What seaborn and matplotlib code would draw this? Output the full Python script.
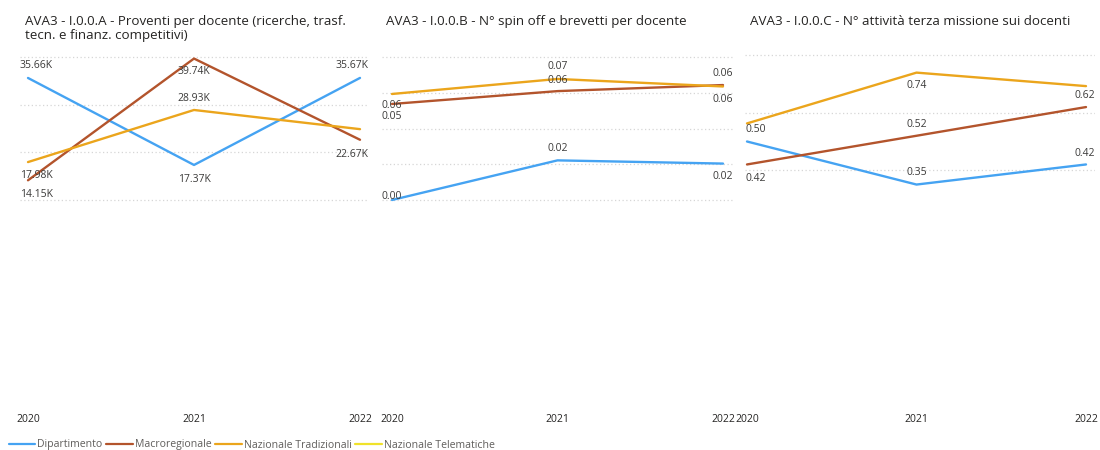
import numpy as np
import pandas as pd
import matplotlib
matplotlib.use("Agg")
import matplotlib.pyplot as plt
from matplotlib.lines import Line2D
import seaborn as sns

# ---- data -------------------------------------------------------------
years = [2020, 2021, 2022]
series = ["Dipartimento", "Macroregionale", "Nazionale Tradizionali", "Nazionale Telematiche"]

titles = [
    "AVA3 - I.0.0.A - Proventi per docente (ricerche, trasf.\ntecn. e finanz. competitivi)",
    "AVA3 - I.0.0.B - N° spin off e brevetti per docente",
    "AVA3 - I.0.0.C - N° attività terza missione sui docenti",
]

proventi_dipartimento = [35660, 17370, 35670]
proventi_macroregionale = [14150, 39740, 22670]
proventi_naz_tradizionali = [17980, 28930, 24900]
proventi_naz_telematiche = [np.nan, np.nan, np.nan]

spinoff_dipartimento = [0.0, 0.0222, 0.0204]
spinoff_macroregionale = [0.0538, 0.061, 0.0644]
spinoff_naz_tradizionali = [0.0594, 0.0678, 0.0636]
spinoff_naz_telematiche = [np.nan, np.nan, np.nan]

terza_dipartimento = [0.50, 0.35, 0.42]
terza_macroregionale = [0.42, 0.52, 0.62]
terza_naz_tradizionali = [0.563, 0.74, 0.693]
terza_naz_telematiche = [np.nan, np.nan, np.nan]

palette = {
    "Dipartimento": "#45A3F2",
    "Macroregionale": "#B3542C",
    "Nazionale Tradizionali": "#EBA51C",
    "Nazionale Telematiche": "#F0E22A",
}

# ---- layout (pixels on a 1100 x 450 canvas) ---------------------------
W, H = 1100, 450
AX_TOP, AX_BOTTOM = 52, 407
panels = [
    dict(left=20, right=368, x0=28, x2=360, zero=247.6, scale=4.757e-3,
         grid=[10000, 20000, 30000, 40000], fmt=lambda v: f"{v/1000:.2f}K", title_x=25),
    dict(left=382, right=733, x0=392, x2=723, zero=200.0, scale=1785.0,
         grid=[0, 0.02, 0.04, 0.06, 0.08], fmt=lambda v: f"{v:.2f}", title_x=386),
    dict(left=745, right=1095, x0=747, x2=1086, zero=285.0, scale=287.0,
         grid=[0.4, 0.6, 0.8], fmt=lambda v: f"{v:.2f}", title_x=750),
]

# label placement per panel / series / year: (dy pixels, upward positive) or None
placements = [
    {"Dipartimento": [12, -15, 12],
     "Macroregionale": [-14, -13, -15],
     "Nazionale Tradizionali": [-13, 11, None]},
    {"Dipartimento": [4, 12, -13],
     "Macroregionale": [-13, 11, 12],
     "Nazionale Tradizionali": [-12, 12, -13]},
    {"Dipartimento": [12, 12, 11],
     "Macroregionale": [-14, 11, 12],
     "Nazionale Tradizionali": [None, -13, None]},
]

panel_values = [
    [proventi_dipartimento, proventi_macroregionale, proventi_naz_tradizionali, proventi_naz_telematiche],
    [spinoff_dipartimento, spinoff_macroregionale, spinoff_naz_tradizionali, spinoff_naz_telematiche],
    [terza_dipartimento, terza_macroregionale, terza_naz_tradizionali, terza_naz_telematiche],
]

sns.set_theme(style="white")
plt.rcParams["font.family"] = ["Open Sans", "DejaVu Sans"]

TEXT = "#252423"
LABEL = "#3B3A39"
GRID = "#D6D6D6"
PT = 0.72  # points per pixel at 100 dpi

fig = plt.figure(figsize=(W / 100, H / 100), dpi=100)
fig.patch.set_facecolor("white")

for p, vals, place, title in zip(panels, panel_values, placements, titles):
    ax = fig.add_axes([p["left"] / W, 1 - AX_BOTTOM / H,
                       (p["right"] - p["left"]) / W, (AX_BOTTOM - AX_TOP) / H])
    # x range so that first/last year land on their pixel columns
    px_per_year = (p["x2"] - p["x0"]) / 2
    ax.set_xlim(2020 - (p["x0"] - p["left"]) / px_per_year,
                2022 + (p["right"] - p["x2"]) / px_per_year)
    ax.set_ylim((p["zero"] - AX_BOTTOM) / p["scale"], (p["zero"] - AX_TOP) / p["scale"])

    df = pd.DataFrame({
        "anno": np.tile(years, len(series)),
        "serie": np.repeat(series, len(years)),
        "valore": np.concatenate([np.asarray(v, dtype=float) for v in vals]),
    }).dropna()

    for g in p["grid"]:
        ax.axhline(g, color=GRID, lw=0.9, ls=(0, (1, 2)), zorder=0)

    sns.lineplot(data=df, x="anno", y="valore", hue="serie", palette=palette,
                 hue_order=series, linewidth=1.7, legend=False, ax=ax, zorder=3)

    ax.set_xticks(years)
    ax.set_xticklabels([str(y) for y in years], fontsize=7.5, color=TEXT)
    ax.tick_params(axis="x", length=0, pad=5)
    ax.set_yticks([])
    ax.set_xlabel("")
    ax.set_ylabel("")
    for s in ax.spines.values():
        s.set_visible(False)

    fig.text(p["title_x"] / W, 1 - 15 / H, title, ha="left", va="top",
             fontsize=9.6, color=TEXT, linespacing=1.15)

    # data labels, kept inside the panel horizontally
    renderer = fig.canvas.get_renderer()
    ax_bbox = ax.get_window_extent(renderer)
    for name, v in zip(series, vals):
        if name not in place:
            continue
        for yr, val, dy in zip(years, v, place[name]):
            if dy is None or np.isnan(val):
                continue
            t = ax.annotate(p["fmt"](val), xy=(yr, val), xytext=(0, dy * PT),
                            textcoords="offset points", ha="center", va="center",
                            fontsize=7.5, color=LABEL, zorder=5)
            bb = t.get_window_extent(renderer)
            shift = 0.0
            if bb.x0 < ax_bbox.x0:
                shift = ax_bbox.x0 - bb.x0
            elif bb.x1 > ax_bbox.x1:
                shift = ax_bbox.x1 - bb.x1
            if shift:
                t.set_position((shift * PT, dy * PT))

# legend along the bottom edge
handles = [Line2D([0], [0], color=palette[s], lw=1.6) for s in series]
fig.legend(handles, series, loc="center left", bbox_to_anchor=(9 / W, 1 - 445 / H),
           ncol=4, frameon=False, fontsize=7.6, handlelength=2.5, handletextpad=0.2,
           columnspacing=0.35, labelcolor="#605E5C", borderaxespad=0, borderpad=0)

fig.savefig("out.png", dpi=100, facecolor="white")
